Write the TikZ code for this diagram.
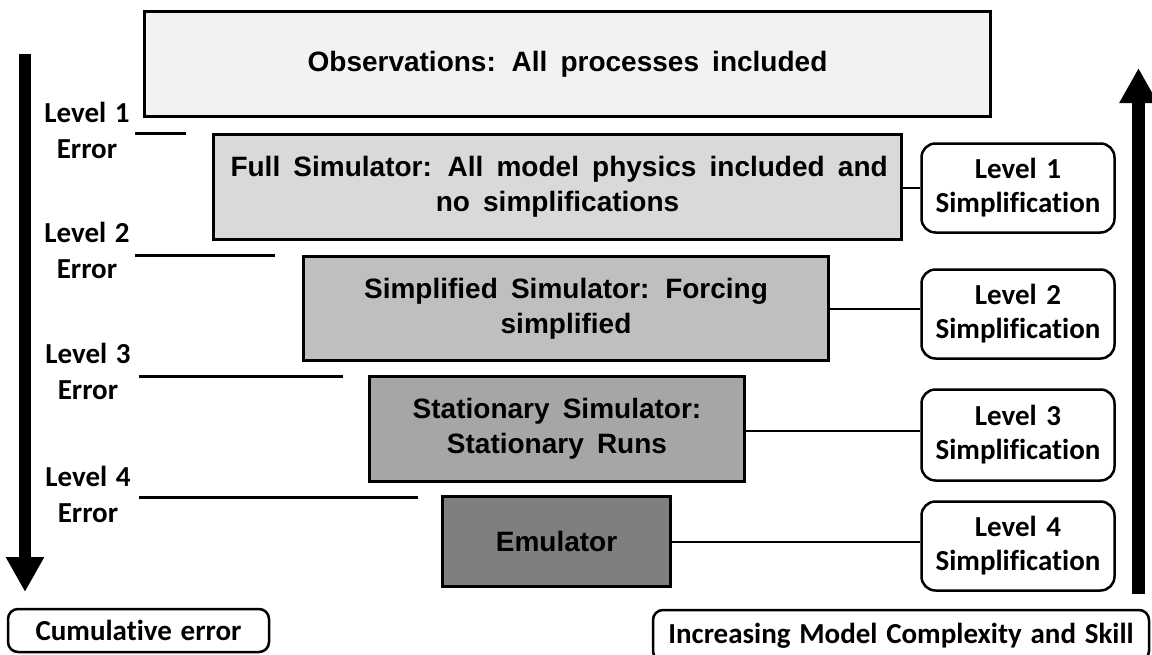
\documentclass[tikz,border=0pt]{standalone}
\usepackage{fontspec}
\setmainfont{Liberation Sans}
\newfontfamily\calfont[Ligatures=CommonOff]{Carlito}
\usetikzlibrary{arrows.meta,calc}
\definecolor{obsfill}{HTML}{F2F2F2}
\definecolor{fullfill}{HTML}{D9D9D9}
\definecolor{simfill}{HTML}{BFBFBF}
\definecolor{statfill}{HTML}{A6A6A6}
\definecolor{emufill}{HTML}{7F7F7F}
\newcommand\stagefont{\fontsize{28}{35}\selectfont\bfseries\spaceskip 0.47em plus 0.1em\relax}
\newcommand\labfont{\calfont\fontsize{29}{34}\selectfont\bfseries\spaceskip 0.3em plus 0.1em\relax}
\newcommand\errfont{\calfont\fontsize{29}{36}\selectfont\bfseries\spaceskip 0.3em plus 0.1em\relax}
\begin{document}
\begin{tikzpicture}[x=1pt,y=-1pt,
  stage/.style={draw, line width=3pt, inner sep=0pt, align=center, font=\stagefont},
  simpbox/.style={draw, line width=2.5pt, rounded corners=14pt, inner sep=0pt,
    align=center, minimum width=193pt, text width=190pt, font=\labfont},
  errlabel/.style={inner sep=0pt, align=center, font=\errfont},
  footbox/.style={draw, line width=2.5pt, rounded corners=10pt, inner sep=0pt, font=\labfont},
  errline/.style={line width=3pt},
  link/.style={line width=2pt},
  bigarrow/.style={line width=12.5pt, -{Triangle[width=36pt,length=35pt]}}
]
\useasboundingbox (0,0) rectangle (1152,654);
\clip (0,0) rectangle (1152,654);

% stage boxes
\node[stage, fill=obsfill, minimum width=846pt, minimum height=105pt] (obs) at (567.5,64)
  {Observations: All processes included};
\node[stage, fill=fullfill, minimum width=688pt, minimum height=105pt] (full) at (557.5,187)
  {\makebox[654pt][s]{Full Simulator: All model physics included and}\\no simplifications};
\node[stage, fill=simfill, minimum width=525pt, minimum height=104pt] (simp) at (566,308.5)
  {Simplified Simulator: Forcing\\simplified};
\node[stage, fill=statfill, minimum width=375pt, minimum height=105pt] (stat) at (557,429)
  {Stationary Simulator:\\Stationary Runs};
\node[stage, fill=emufill, minimum width=228pt, minimum height=90pt] (emu) at (556.5,541.5)
  {Emulator};

% simplification boxes
\node[simpbox, minimum height=89pt] (s1) at (1018,188) {Level 1\\Simplification};
\node[simpbox, minimum height=89pt] (s2) at (1018,314) {Level 2\\Simplification};
\node[simpbox, minimum height=91pt] (s3) at (1018,435) {Level 3\\Simplification};
\node[simpbox, minimum height=89pt] (s4) at (1018,546) {Level 4\\Simplification};

% connectors
\coordinate (c1) at (s1.west);
\coordinate (c2) at ([yshift=5pt]s2.west);
\coordinate (c3) at ([yshift=4pt]s3.west);
\coordinate (c4) at ([yshift=4pt]s4.west);
\draw[link] (c1) -- (c1 -| full.east);
\draw[link] (c2) -- (c2 -| simp.east);
\draw[link] (c3) -- (c3 -| stat.east);
\draw[link] (c4) -- (c4 -| emu.east);

% error labels
\node[errlabel] (l1) at (87,130.7) {Level 1\\Error};
\node[errlabel] (l2) at (87,250.7) {Level 2\\Error};
\node[errlabel] (l3) at (88,371.7) {Level 3\\Error};
\node[errlabel] (l4) at (88,494.7) {Level 4\\Error};

% error lines
\coordinate (e1a) at (135,133); \coordinate (e1b) at (186,133);
\coordinate (e2a) at (135,255); \coordinate (e2b) at (275,255);
\coordinate (e3a) at (139,376); \coordinate (e3b) at (343,376);
\coordinate (e4a) at (139,497); \coordinate (e4b) at (418,497);
\draw[errline] (e1a) -- (e1b);
\draw[errline] (e2a) -- (e2b);
\draw[errline] (e3a) -- (e3b);
\draw[errline] (e4a) -- (e4b);

% big arrows
\coordinate (la) at (25,54); \coordinate (lb) at (25,592);
\draw[bigarrow] (la) -- (lb);
\coordinate (ra) at (1138.5,594); \coordinate (rb) at (1138.5,68);
\draw[bigarrow] (ra) -- (rb);

% footer boxes
\node[footbox, minimum width=261pt, minimum height=43pt] (cum) at (138.5,630.5) {Cumulative error};
\node[footbox, minimum width=496pt, minimum height=51pt] (inc) at (901,635.5) {Increasing Model Complexity and Skill};
\end{tikzpicture}
\end{document}
